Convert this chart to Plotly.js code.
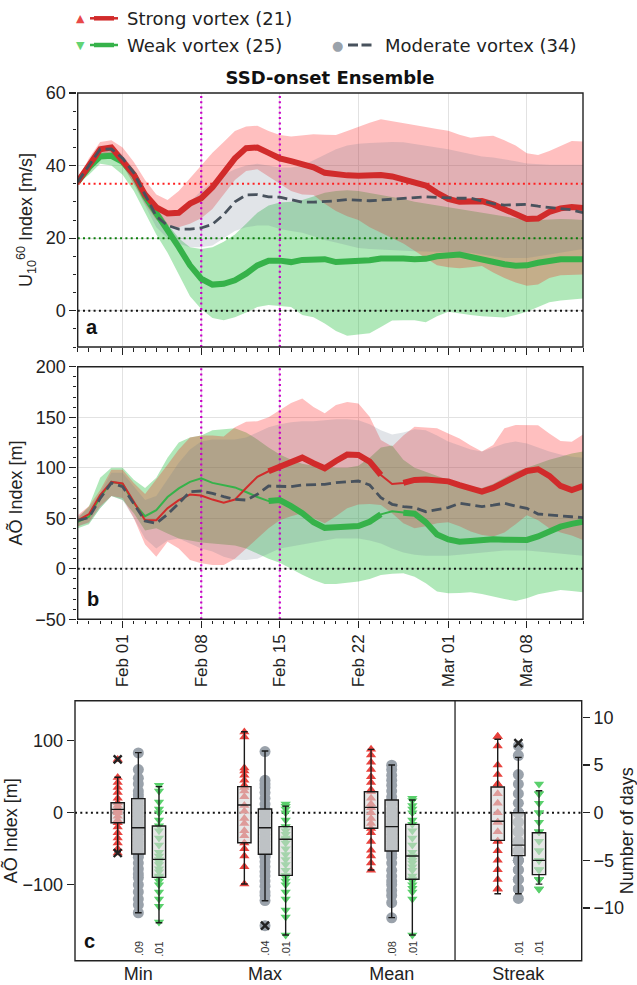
<!DOCTYPE html>
<html><head><meta charset="utf-8">
<script src="https://cdn.plot.ly/plotly-3.0.1.min.js"></script>
<style>html,body{margin:0;padding:0;background:#fff}#chart{width:637px;height:985px}</style>
</head><body><div id="chart"></div>
<script>
// ---------- dates (daily, leap-year composite) ----------
const startDate = '2000-01-28';
const endDate = '2000-03-13';
const dayCount = 46;
const dates = [];
for (let i = 0; i < dayCount; i++) {
  dates.push(new Date(Date.UTC(2000, 0, 28 + i)).toISOString().slice(0, 10));
}
const dateTickVals = ['2000-02-01','2000-02-08','2000-02-15','2000-02-22','2000-03-01','2000-03-08'];
const dateTickText = ['Feb 01','Feb 08','Feb 15','Feb 22','Mar 01','Mar 08'];
const markerDates = ['2000-02-08','2000-02-15'];
const thresholdStrong = 35;
const thresholdWeak = 20;

// ---------- panel a: U10/60 index ----------
const uStrong = [35.5,40,44.5,45,41,37.5,32,28.5,26.8,27,29.5,31,34,38,42,44.8,45,43.5,42,41.2,40.5,39.5,38,37.5,37.3,37.2,37.3,37.4,37,36.3,35.6,34.5,32.5,30.8,30,30.2,30.2,29.3,28,26.5,25.3,25.4,27.2,28.2,28.6,28.3];
const uWeak = [35.5,39.5,42.5,42.7,41,37.5,31.5,27,22,17.5,12.5,8.8,7.2,7.4,8.4,10.2,12.5,13.8,13.8,13.4,14,14.2,14.2,13.4,13.5,13.7,13.9,14.4,14.6,14.4,14.2,14.3,15,15.3,15.5,14.8,14,13.3,12.8,12.4,12.5,13.2,13.9,14.2,14.2,14.2];
const uModerate = [35.5,40,44.5,44.6,42,38,32,26,23.5,22.5,22.5,22.8,23.8,26.5,30,31.9,32,31.4,31.3,30.5,29.9,29.9,30,30.3,30.6,30.4,30.3,30.5,30.7,30.9,31.2,31.4,31.2,31,31,31,30.3,29.5,29.1,29.2,29.3,28.8,28.4,28.2,27.8,27];
const uStrongHi = [36,42,46.5,47,45,41,36,32,30.5,33,36.5,40,43.5,46.5,49.5,50.8,51,49.5,48.4,48,48.3,48.6,48.5,48.4,49.5,50.7,51.8,52.8,52.2,51.6,51.2,50.6,50.1,49.6,48.5,47.7,48,48.2,47,45.5,43.4,42.9,44,45.5,46.8,46.6];
const uStrongLo = [35,38,42,43,40,35,29.5,25,23.5,23,24,25.5,28,32,36,38.5,39,37,35,33,32,31.9,29.5,27.5,26,25,23,21.5,20,18.5,16.5,14.5,12.5,12,11.7,12,12.3,10.5,9,7.8,6.9,7.2,9,9.8,10,10];
const uWeakHi = [35.5,40,43.5,44,42,38.5,33,28.5,24,20,17.5,17,17.5,19,21,24,27,29,29.8,30,30.5,31.5,32.5,33,33.2,33,32.5,32,31.5,30.8,30,29.5,29,28.5,28,27.5,27,26.5,26,25.5,25,25,25.2,25.3,25.2,25];
const uWeakLo = [35,37.5,40.5,40,37.5,33,27,21,16,10,4,0.5,-2,-2.6,-1.8,-0.5,1,1.6,1.4,1,-1.2,-1.8,-3.5,-5.6,-6.9,-6.6,-6.2,-4.5,-2.7,-2.6,-2.6,-3.2,-1.5,-0.3,-0.8,-1.2,-1.5,-1.7,-1.9,-1.2,-0.3,1,2.3,2.8,3.2,3.4];
const uModHi = [35.5,41,45.5,45.5,43,39,33,28,26,27,30,33,35.5,37.5,39,40,40.5,40,39.5,39.5,40,41.5,43,44.5,45.5,46,46.2,46.4,46.5,46.4,46,45.5,45,44.5,43.8,43,42.5,42.2,41.8,41.2,40.6,40.3,40.2,40.2,40.2,40.2];
const uModLo = [35,38,43,43.5,40,35,29,23,20,18.5,17.5,17.5,18,20,22,23,23.5,23.5,22.5,22,21.5,20.5,19.5,18.8,18,17.3,17,16.8,16.7,16.5,16.4,16.3,16.2,16.2,16.2,16,15.5,15,14.5,14.5,14.5,15,15.5,16,16.5,17];

// ---------- panel b: AO index ----------
const aoStrong = [48,54,73,86,84.5,66,48,48,60,68,73.5,72.5,68.5,65.5,68.5,80,91,96.5,101,106,110,104.4,99.4,106.7,113,112.6,106,92.8,84,85,87.9,88.3,88,86.5,82.9,79.5,76.3,80,86,92,96.8,98.5,92,82,78,81.9];
const aoWeak = [46.5,51.5,71,86,84,65,52,58,71,79.5,86,89.5,85,83,80.5,76,71,67,68,62,55,46,40.5,41,41.5,42.3,46.6,53.9,57,55.5,54.5,46,34,29,26.8,27.5,28.5,29.2,28.8,28.5,28.5,32,37,41.7,44.5,46.6];
const aoModerate = [48,50.6,69.7,85,81.3,64.8,47.3,45,54,64.8,76.3,77,74.7,71.4,68.7,68,73.7,81.9,81.9,81.3,83,83.6,83.6,85.2,86,86.9,82.9,70.4,63.8,61.5,60.5,56.5,58.5,60.5,64.8,63,61.5,63,64.8,62,59.8,54.2,53.5,52.6,51.5,50.6];
const aoStrongHi = [53,62,78,98,98,85,74,88,103,118,130,132,132,131,140,145.6,146,150,157,164,168.5,160,154,162,165,163.7,150.5,127.4,121,132,140.6,139.5,139,134,129,122,116,122.5,139,142.3,142.3,142,134,126.5,125.8,133];
const aoStrongLo = [42,46,62,72,70,50,24,12,26.8,20,8.6,5.4,3.7,3.7,10,20,30,40,48,52,55,50,45,52,60,63.5,64,63,55,45,40,42,45,46,42,37,33.4,32,36,44,53,48,40,36,33,28.5];
const aoWeakHi = [50,62,90,100,100,88,80,90,110,125,130,132,137,138,139,135,128,120,113,108,104,102,101,100,100,102,110,120,122,108,100,96,92,88,84,81,80,84,90,96,100,104,108,111,114,116];
const aoWeakLo = [40,44,60,72,68,55,38,40,35,30,28,26,25,24,23,20,15,10,6,0,-6,-11,-15,-15,-14,-12.7,-10,-6.1,-5,-4.5,-8,-14.4,-22.6,-24.3,-24,-23.3,-25,-27.6,-30,-31.9,-29.2,-25.3,-23,-21,-22,-23.3];
const aoModHi = [52,60,75,95,95,82,68,72,88,105,118,126,128,128,128,130,135,140,143,145,146,146,147,148,148,147,143,137,133,135,138,137,132,126,122,118,116,120,124,126,124,120,116,113,111,110];
const aoModLo = [42,45,60,72,68,50,30,20,28,30,25,20,17,12,9,8.6,10,15,20,22,24,26,28,30,30,30,28,25,20,16,14,13,13,13,14,15,16,17,18,18,18,17,16,15,14,13];
// significance (thick line) flags for panel b
const sigStrongB = [0,0,0,0,0,0,0,0,0,0,0,0,0,0,0,0,0,1,1,1,1,1,1,1,1,1,1,1,0,1,1,1,1,1,1,1,1,1,1,1,1,1,1,1,1,1];
const sigWeakB   = [0,0,0,0,0,0,0,0,0,0,0,0,0,0,0,0,0,1,1,1,1,1,1,1,1,1,1,1,0,1,1,1,1,1,1,1,1,1,1,1,1,1,1,1,1,1];

// ---------- panel c: box plots ----------
const categoryLabels = ['Min','Max','Mean','Streak'];
const strongMin  = [74,49,42,35,28,20,14,10,6,4,2,0,-5,-10,-14,-20,-28,-35,-42,-50,-56];
const strongMax  = [112,105,62,58,52,45,38,35,30,22,10,2,-8,-15,-25,-32,-42,-50,-60,-75,-99];
const strongMean = [88,80,70,60,50,42,32,29,20,12,7,0,-8,-15,-22,-28,-40,-52,-60,-70,-80];
const strongStreak = [8,8,7,5,4,3,3,2,1,0,-1,-1,-2,-3,-3,-4,-5,-6,-7,-8,-8];
const modMin  = [83,60,48,40,30,25,20,15,10,5,0,-5,-10,-15,-20,-21,-25,-30,-35,-40,-45,-50,-55,-58,-62,-70,-78,-85,-90,-100,-110,-120,-128,-139];
const modMax  = [85,45,40,35,28,20,12,5,0,-5,-10,-15,-20,-21,-25,-30,-35,-40,-45,-50,-55,-58,-60,-62,-68,-75,-82,-88,-95,-102,-110,-115,-122,-157];
const modMean = [66,60,52,45,38,30,22,17,12,5,0,-5,-10,-15,-19,-20,-25,-30,-35,-40,-45,-50,-53,-58,-62,-70,-80,-88,-95,-100,-108,-115,-125,-146];
const modStreak = [7,6,4,3,2,1,0,0,0,0,-1,-1,-2,-2,-2,-3,-3,-3,-3,-4,-4,-4,-4,-5,-5,-5,-5,-6,-6,-7,-7,-8,-8,-9];
const weakMin  = [38,30,15,5,0,-10,-18,-25,-35,-45,-55,-60,-65,-68,-72,-78,-82,-88,-90,-95,-100,-110,-120,-130,-152];
const weakMax  = [12,9,5,0,-10,-19,-25,-30,-35,-37,-42,-50,-58,-65,-72,-80,-87,-90,-95,-100,-110,-120,-135,-145,-170];
const weakMean = [20,17,10,5,0,-10,-16,-25,-35,-45,-55,-60,-62,-66,-70,-75,-80,-88,-92,-95,-100,-105,-110,-120,-170];
const weakStreak = [3,2,2,1,0,0,-1,-2,-2,-3,-4,-4,-5,-5,-5,-5,-6,-6,-6,-7,-7,-7,-7,-8,-8];
// box statistics: [Min, Max, Mean, Streak]
const strongQ1 = [-13.9,-41.7,-21.7,-2.9], strongMed = [4.6,10.6,7.4,-0.9], strongQ3 = [13.9,36.2,29.2,2.7], strongLoF = [-54.2,-99,-79.6,-8.5], strongHiF = [49.2,112.5,88,7.7];
const modQ1 = [-57.4,-57.8,-53.2,-4.5], modMed = [-20.9,-20.9,-19.4,-3.4], modQ3 = [19.5,5.2,17.6,0], modLoF = [-138.9,-122.3,-145.8,-8.5], modHiF = [83.4,85.7,66.2,5.8];
const weakQ1 = [-89.8,-87,-92.5,-6.5], weakMed = [-64.8,-36.9,-60.1,-5], weakQ3 = [-18.5,-19.4,-16.2,-2.1], weakLoF = [-152.8,-169.9,-169.9,-7.5], weakHiF = [36.2,9.2,17.6,2.3];
const strongOutCat = [0,0], strongOutVal = [74,-56];
const modOutCat = [1,3], modOutVal = [-157,7.3];
const pModerate = ['.09','.04','.08','.01'];
const pWeak = ['.01','.01','.01','.01'];

// ---------- styles ----------
const RED = '#d12b2b', GREEN = '#36b24a', GRAY = '#48525d';
const RED_FILL = 'rgba(255,0,0,0.25)', GREEN_FILL = 'rgba(30,190,55,0.35)', GRAY_FILL = 'rgba(105,120,140,0.2)';
const offsets = {strong: -0.163, moderate: 0, weak: 0.163};
const boxWidth = 0.105;
const TF = 'Liberation Sans, Arial, sans-serif';
const DF = 'DejaVu Sans, sans-serif';
const yRangeA = [-10, 60], yRangeB = [-50, 200], xRangeC = [-0.5, 3.5], yRangeC = [-205.6, 155.6], yRangeD = [-15.53, 11.75];
const DOT = '2px,3.3px';

function band(hi, lo, fill, xa, ya) {
  return [
    {x: dates, y: hi, xaxis: xa, yaxis: ya, mode: 'lines', line: {width: 0}, hoverinfo: 'skip', showlegend: false},
    {x: dates, y: lo, xaxis: xa, yaxis: ya, mode: 'lines', line: {width: 0}, fill: 'tonexty', fillcolor: fill, hoverinfo: 'skip', showlegend: false}
  ];
}
function line(y, color, width, dash, xa, ya) {
  return {x: dates, y: y, xaxis: xa, yaxis: ya, mode: 'lines', line: {color: color, width: width, dash: dash || 'solid'}, hoverinfo: 'skip', showlegend: false};
}
function refLine(x, y, color, width, xa, ya, extra) {
  return Object.assign({x: x, y: y, xaxis: xa, yaxis: ya, mode: 'lines', line: {color: color, width: width, dash: DOT}, hoverinfo: 'skip', showlegend: false}, extra || {});
}
function masked(y, sig) { return y.map((v, i) => sig[i] ? v : null); }

const traces = [];
// panel a
traces.push(...band(uWeakHi, uWeakLo, GREEN_FILL, 'x', 'y'));
traces.push(...band(uStrongHi, uStrongLo, RED_FILL, 'x', 'y'));
traces.push(...band(uModHi, uModLo, GRAY_FILL, 'x', 'y'));
traces.push(refLine([startDate, endDate], [thresholdStrong, thresholdStrong], '#ff2020', 2, 'x', 'y'));
traces.push(refLine([startDate, endDate], [thresholdWeak, thresholdWeak], '#0b7d0b', 2, 'x', 'y'));
traces.push(refLine([startDate, endDate], [0, 0], '#111', 2, 'x', 'y'));
markerDates.forEach(d => traces.push(refLine([d, d], yRangeA, '#c800c8', 2.2, 'x', 'y')));
traces.push(line(uWeak, GREEN, 6, null, 'x', 'y'));
traces.push(line(uStrong, RED, 6, null, 'x', 'y'));
traces.push(line(uModerate, GRAY, 2.8, '10px,5px', 'x', 'y'));
// panel b
traces.push(...band(aoWeakHi, aoWeakLo, GREEN_FILL, 'x2', 'y2'));
traces.push(...band(aoStrongHi, aoStrongLo, RED_FILL, 'x2', 'y2'));
traces.push(...band(aoModHi, aoModLo, GRAY_FILL, 'x2', 'y2'));
traces.push(refLine([startDate, endDate], [0, 0], '#111', 2, 'x2', 'y2'));
markerDates.forEach(d => traces.push(refLine([d, d], yRangeB, '#c800c8', 2.2, 'x2', 'y2')));
traces.push(line(aoWeak, GREEN, 2, null, 'x2', 'y2'));
traces.push(line(masked(aoWeak, sigWeakB), GREEN, 6, null, 'x2', 'y2'));
traces.push(line(aoStrong, RED, 2, null, 'x2', 'y2'));
traces.push(line(masked(aoStrong, sigStrongB), RED, 6, null, 'x2', 'y2'));
traces.push(line(aoModerate, GRAY, 2.8, '10px,5px', 'x2', 'y2'));

// panel c: zero line, points (beneath the boxes), boxes, outliers
traces.push(refLine(xRangeC, [0, 0], '#111', 2, 'x3', 'y3', {zorder: 0}));
function pts(arrs, off, yaxis, catStart, marker) {
  const x = [], y = [];
  arrs.forEach((a, k) => a.forEach(v => { x.push(catStart + k + off); y.push(v); }));
  return {x: x, y: y, xaxis: 'x3', yaxis: yaxis, mode: 'markers', marker: marker, zorder: 0, hoverinfo: 'skip', showlegend: false};
}
const mStrong = {symbol: 'triangle-up', size: 9, color: '#e8433e'};
const mMod = {symbol: 'circle', size: 11, color: '#9aa2ab'};
const mWeak = {symbol: 'triangle-down', size: 9, color: '#5ad06c'};
traces.push(pts([strongMin, strongMax, strongMean], offsets.strong, 'y3', 0, mStrong));
traces.push(pts([modMin, modMax, modMean], offsets.moderate, 'y3', 0, mMod));
traces.push(pts([weakMin, weakMax, weakMean], offsets.weak, 'y3', 0, mWeak));
traces.push(pts([strongStreak], offsets.strong, 'y4', 3, mStrong));
traces.push(pts([modStreak], offsets.moderate, 'y4', 3, mMod));
traces.push(pts([weakStreak], offsets.weak, 'y4', 3, mWeak));

function boxes(q1, med, q3, lo, hi, off) {
  const common = {type: 'box', xaxis: 'x3', width: boxWidth, whiskerwidth: 0.5, fillcolor: 'rgba(215,215,215,0.6)', zorder: 1,
    line: {color: '#1a1a1a', width: 1.4}, boxpoints: false, hoverinfo: 'skip', showlegend: false};
  return [
    Object.assign({}, common, {yaxis: 'y3', x: [0 + off, 1 + off, 2 + off], q1: q1.slice(0,3), median: med.slice(0,3), q3: q3.slice(0,3), lowerfence: lo.slice(0,3), upperfence: hi.slice(0,3)}),
    Object.assign({}, common, {yaxis: 'y4', x: [3 + off], q1: [q1[3]], median: [med[3]], q3: [q3[3]], lowerfence: [lo[3]], upperfence: [hi[3]]})
  ];
}
traces.push(...boxes(strongQ1, strongMed, strongQ3, strongLoF, strongHiF, offsets.strong));
traces.push(...boxes(modQ1, modMed, modQ3, modLoF, modHiF, offsets.moderate));
traces.push(...boxes(weakQ1, weakMed, weakQ3, weakLoF, weakHiF, offsets.weak));

const xMark = {symbol: 'x-thin', size: 8, color: '#222', line: {width: 2.4, color: '#222'}};
function outl(cats, vals, off) {
  const l = {x: [], y: []}, r = {x: [], y: []};
  cats.forEach((c, i) => { const t = c === 3 ? r : l; t.x.push(c + off); t.y.push(vals[i]); });
  return [
    {x: l.x, y: l.y, xaxis: 'x3', yaxis: 'y3', mode: 'markers', marker: xMark, zorder: 2, hoverinfo: 'skip', showlegend: false},
    {x: r.x, y: r.y, xaxis: 'x3', yaxis: 'y4', mode: 'markers', marker: xMark, zorder: 2, hoverinfo: 'skip', showlegend: false}
  ];
}
traces.push(...outl(strongOutCat, strongOutVal, offsets.strong));
traces.push(...outl(modOutCat, modOutVal, offsets.moderate));

// ---------- layout ----------
const W = 637, H = 985;
const px = v => v / W, py = v => 1 - v / H;
const tickFont = {family: TF, size: 18, color: '#222'};
const titleFont = {family: TF, size: 18, color: '#222'};
const axBase = {showline: true, linecolor: '#222', linewidth: 1.3, mirror: true, ticks: 'outside', tickcolor: '#222',
  tickwidth: 1.2, ticklen: 7, tickfont: tickFont, zeroline: false, automargin: false};
const gridC = '#e2e2e2';
const dateMinor = {ticks: 'outside', ticklen: 3.5, tickwidth: 1, tickcolor: '#222', dtick: 86400000, tick0: startDate, showgrid: false};
const xDom = [77.7/W, 583/W];

// panel frames (pixel boxes of the three panels)
const frames = [[77.7, 93, 583, 347], [77.7, 366.7, 583, 619.3], [75, 700.7, 581.7, 960.7]];
const shapes = frames.map(f => ({type: 'rect', xref: 'paper', yref: 'paper', x0: px(f[0]), x1: px(f[2]), y0: py(f[3]), y1: py(f[1]),
  line: {color: '#222', width: 1.4}, fillcolor: 'rgba(0,0,0,0)', layer: 'above'}));
shapes.push({type: 'line', xref: 'x3', x0: 2.5, x1: 2.5, yref: 'y3', y0: yRangeC[0], y1: yRangeC[1], line: {color: '#222', width: 1.3}});

// legend (drawn manually)
const legRows = [18.3, 45];
function legLine(x0, x1, y, color, width, dash) {
  shapes.push({type: 'line', xref: 'paper', yref: 'paper', x0: px(x0), x1: px(x1), y0: py(y), y1: py(y), line: {color: color, width: width, dash: dash || 'solid'}});
}
legLine(90, 118, legRows[0], RED, 2.5);
legLine(94, 114, legRows[0], RED, 4.5);
legLine(90, 118, legRows[1], GREEN, 2.5);
legLine(94, 114, legRows[1], GREEN, 4.5);
legLine(348, 372, legRows[1], GRAY, 3, '10px,3.5px');

const annotations = [
  {text: '▲', x: px(80), y: py(legRows[0]), font: {family: DF, size: 11, color: '#e84848'}},
  {text: '▼', x: px(80), y: py(legRows[1]), font: {family: DF, size: 11, color: '#62d474'}},
  {text: '●', x: px(337), y: py(legRows[1]), font: {family: DF, size: 13, color: '#9aa2ab'}},
  {text: 'Strong vortex (21)', x: px(125), y: py(legRows[0]), xanchor: 'left', font: {family: DF, size: 18, color: '#222'}},
  {text: 'Weak vortex (25)', x: px(125), y: py(legRows[1]), xanchor: 'left', font: {family: DF, size: 18, color: '#222'}},
  {text: 'Moderate vortex (34)', x: px(382.7), y: py(legRows[1]), xanchor: 'left', font: {family: DF, size: 18, color: '#222'}},
  {text: '<b>a</b>', x: px(91.5), y: py(327), font: {family: TF, size: 20, color: '#111'}},
  {text: '<b>b</b>', x: px(93), y: py(599), font: {family: TF, size: 20, color: '#111'}},
  {text: '<b>c</b>', x: px(89), y: py(941), font: {family: TF, size: 20, color: '#111'}}
].map(a => Object.assign({xref: 'paper', yref: 'paper', showarrow: false, xanchor: 'center', yanchor: 'middle'}, a));
categoryLabels.forEach((c, i) => {
  annotations.push({text: pModerate[i], x: i + offsets.moderate, y: -189, xref: 'x3', yref: 'y3', showarrow: false, textangle: -90, font: {family: TF, size: 11, color: '#333'}});
  annotations.push({text: pWeak[i], x: i + offsets.weak, y: -189, xref: 'x3', yref: 'y3', showarrow: false, textangle: -90, font: {family: TF, size: 11, color: '#333'}});
});

const layout = {
  width: W, height: H, margin: {l: 0, r: 0, t: 0, b: 0}, showlegend: false,
  paper_bgcolor: '#fff', plot_bgcolor: 'rgba(0,0,0,0)',
  title: {text: '<b>SSD-onset Ensemble</b>', font: {family: DF, size: 18, color: '#111'}, x: 330/W, xanchor: 'center', y: py(78), yanchor: 'middle', xref: 'paper', yref: 'paper'},
  xaxis: Object.assign({}, axBase, {type: 'date', domain: xDom, anchor: 'y', range: [startDate, endDate], tickmode: 'array',
    tickvals: dateTickVals, ticktext: dateTickText, showticklabels: false, showgrid: true, gridcolor: gridC, gridwidth: 1.2, minor: dateMinor}),
  yaxis: Object.assign({}, axBase, {domain: [py(347), py(93)], anchor: 'x', range: yRangeA, tickmode: 'array', tickvals: [0, 20, 40, 60],
    showgrid: true, gridcolor: gridC, gridwidth: 1.2, minor: {ticks: 'outside', ticklen: 3.5, tickwidth: 1, tickcolor: '#222', dtick: 5, tick0: 0, showgrid: false},
    title: {text: 'U<sub>10</sub><sup>60</sup> Index [m/s]', font: titleFont, standoff: 8}}),
  xaxis2: Object.assign({}, axBase, {type: 'date', domain: xDom, anchor: 'y2', matches: 'x', range: [startDate, endDate], tickmode: 'array',
    tickvals: dateTickVals, ticktext: dateTickText, tickangle: -90, tickfont: {family: TF, size: 17, color: '#222'}, showgrid: true, gridcolor: gridC, gridwidth: 1.2, minor: dateMinor}),
  yaxis2: Object.assign({}, axBase, {domain: [py(619.3), py(366.7)], anchor: 'x2', range: yRangeB, tickmode: 'array', tickvals: [-50, 0, 50, 100, 150, 200],
    showgrid: true, gridcolor: gridC, gridwidth: 1.2, minor: {ticks: 'outside', ticklen: 3.5, tickwidth: 1, tickcolor: '#222', dtick: 10, tick0: 0, showgrid: false},
    title: {text: 'AÕ Index [m]', font: titleFont, standoff: 8}}),
  xaxis3: Object.assign({}, axBase, {domain: [75/W, 581.7/W], anchor: 'y3', range: xRangeC, tickmode: 'array', tickvals: [0, 1, 2, 3],
    ticktext: categoryLabels, ticks: '', ticklabelstandoff: -4, showgrid: false, tickfont: {family: TF, size: 18, color: '#222'}}),
  yaxis3: Object.assign({}, axBase, {domain: [py(960.7), py(700.7)], anchor: 'x3', range: yRangeC, tickmode: 'array', tickvals: [-100, 0, 100],
    showgrid: false, title: {text: 'AÕ Index [m]', font: titleFont, standoff: 8}}),
  yaxis4: Object.assign({}, axBase, {overlaying: 'y3', anchor: 'x3', side: 'right', mirror: false, range: yRangeD, tickmode: 'array',
    tickvals: [-10, -5, 0, 5, 10], showgrid: false, title: {text: 'Number of days', font: titleFont, standoff: 8}}),
  shapes: shapes,
  annotations: annotations
};

Plotly.newPlot('chart', traces, layout, {staticPlot: true, displayModeBar: false});
</script>
</body></html>
